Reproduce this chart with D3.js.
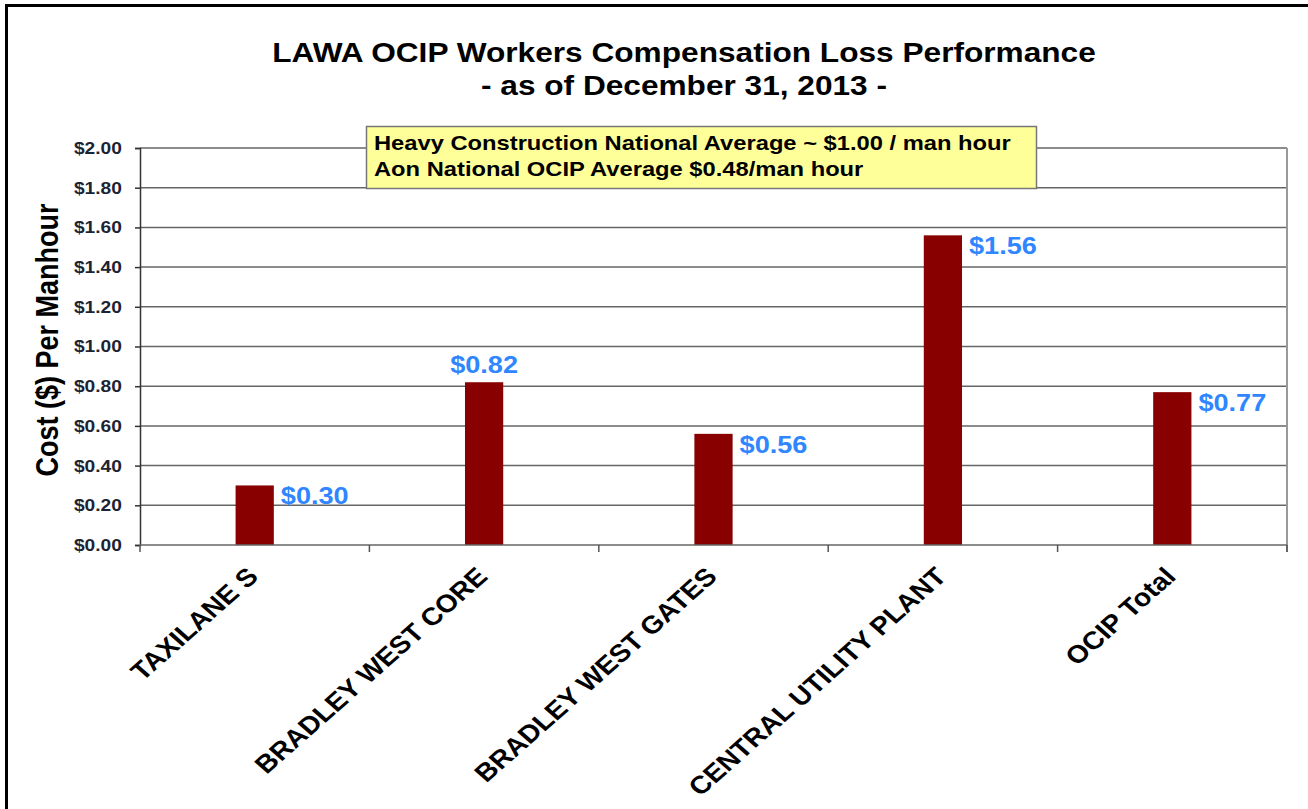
<!DOCTYPE html>
<html>
<head>
<meta charset="utf-8">
<script src="https://cdn.jsdelivr.net/npm/d3@7"></script>
<style>
  body { margin: 0; background: #fff; }
  svg { display: block; font-family: "Liberation Sans", Arial, sans-serif; }
</style>
</head>
<body>
<svg width="1308" height="809"></svg>
<script>
/* data */
var categories = ["TAXILANE S", "BRADLEY WEST CORE", "BRADLEY WEST GATES", "CENTRAL UTILITY PLANT", "OCIP Total"];
var costs = [0.30, 0.82, 0.56, 1.56, 0.77];
var yTicks = [0, 0.2, 0.4, 0.6, 0.8, 1.0, 1.2, 1.4, 1.6, 1.8, 2.0];
var titleLines = ["LAWA OCIP Workers Compensation Loss Performance", "- as of December 31, 2013 -"];
var noteLines = ["Heavy Construction National Average ~ $1.00 / man hour", "Aon National OCIP Average $0.48/man hour"];

/* plot area (note: "top" is taken by window.top, so use plotTop) */
var plotLeft = 140, plotRight = 1287, plotTop = 148, plotBottom = 545;
// the source picture is stretched sideways a bit, text included
var SX = 1.13;

var svg = d3.select("svg");

// outer frame (only left + top show in the picture)
svg.append("path")
  .attr("d", "M6.5,809 L6.5,5.5 L1308,5.5")
  .attr("fill", "none")
  .attr("stroke", "#000")
  .attr("stroke-width", 3);

var x = d3.scaleBand().domain(categories).range([plotLeft, plotRight]).padding(0);
var y = d3.scaleLinear().domain([0, 2]).range([plotBottom, plotTop]);

// gridlines
svg.append("g").selectAll("line")
  .data(yTicks.filter(function(d) { return d > 0; }))
  .join("line")
  .attr("x1", plotLeft).attr("x2", plotRight)
  .attr("y1", function(d) { return y(d); })
  .attr("y2", function(d) { return y(d); })
  .attr("stroke", "#666")
  .attr("stroke-width", 1.5);

// right edge of plot
svg.append("line")
  .attr("x1", plotRight).attr("x2", plotRight)
  .attr("y1", plotTop).attr("y2", plotBottom + 7)
  .attr("stroke", "#999").attr("stroke-width", 2);

// bars
var barW = x.bandwidth() / 6;
svg.append("g").selectAll("rect")
  .data(costs)
  .join("rect")
  .attr("x", function(d, i) { return x(categories[i]) + x.bandwidth() / 2 - barW / 2; })
  .attr("y", function(d) { return y(d); })
  .attr("width", barW)
  .attr("height", function(d) { return y(0) - y(d); })
  .attr("fill", "#880000");

// y axis
var yAxis = svg.append("g")
  .attr("transform", "translate(" + plotLeft + ",0)")
  .call(d3.axisLeft(y).tickValues(yTicks).tickSize(5).tickPadding(11)
    .tickFormat(function(d) { return "$" + d.toFixed(2); }));
yAxis.select(".domain").attr("stroke", "#333").attr("stroke-width", 1.5);
yAxis.selectAll(".tick line").attr("stroke", "#333").attr("stroke-width", 1.5);
yAxis.selectAll("text")
  .attr("transform", "scale(" + SX + ",1)")
  .attr("font-size", 17).attr("font-weight", "bold").attr("fill", "#1c2433");

// x axis (ticks at category boundaries)
var bounds = categories.map(function(c) { return x(c); }).concat([plotRight]);
svg.append("line")
  .attr("x1", plotLeft).attr("x2", plotRight)
  .attr("y1", plotBottom).attr("y2", plotBottom)
  .attr("stroke", "#666").attr("stroke-width", 1.5);
svg.append("g").selectAll("line")
  .data(bounds)
  .join("line")
  .attr("x1", function(d) { return d; }).attr("x2", function(d) { return d; })
  .attr("y1", plotBottom).attr("y2", plotBottom + 7)
  .attr("stroke", "#555").attr("stroke-width", 1.5);

// category labels, rotated
svg.append("g").selectAll("text")
  .data(categories)
  .join("text")
  .attr("transform", function(d) {
    return "translate(" + (x(d) + x.bandwidth() / 2 + 5) + "," + (plotBottom + 33) + ") scale(" + SX + ",1) rotate(-45)";
  })
  .attr("text-anchor", "end")
  .attr("font-size", 25)
  .attr("font-weight", "bold")
  .attr("fill", "#000")
  .text(function(d) { return d; });

// value labels; the second one sits above its bar, the rest at the right of the bar top
svg.append("g").selectAll("text")
  .data(costs)
  .join("text")
  .attr("transform", function(d, i) {
    var cx = x(categories[i]) + x.bandwidth() / 2;
    var tx = i === 1 ? cx : cx + barW / 2 + 7;
    var ty = i === 1 ? y(d) - 9 : y(d) + 19;
    return "translate(" + tx + "," + ty + ") scale(" + SX + ",1)";
  })
  .attr("text-anchor", function(d, i) { return i === 1 ? "middle" : "start"; })
  .attr("font-size", 24)
  .attr("font-weight", "bold")
  .attr("fill", "#2f86ff")
  .text(function(d) { return "$" + d.toFixed(2); });

// y axis title
svg.append("text")
  .attr("transform", "translate(58,340) scale(" + SX + ",1) rotate(-90)")
  .attr("text-anchor", "middle")
  .attr("font-size", 27)
  .attr("font-weight", "bold")
  .attr("fill", "#000")
  .text("Cost ($) Per Manhour");

// title
svg.append("g").selectAll("text")
  .data(titleLines)
  .join("text")
  .attr("transform", function(d, i) { return "translate(684," + (62 + i * 33) + ") scale(" + SX + ",1)"; })
  .attr("text-anchor", "middle")
  .attr("font-size", 28)
  .attr("font-weight", "bold")
  .attr("fill", "#000")
  .text(function(d) { return d; });

// yellow note box
svg.append("rect")
  .attr("x", 366.5).attr("y", 126.5)
  .attr("width", 670).attr("height", 62)
  .attr("fill", "#ffff99")
  .attr("stroke", "#777").attr("stroke-width", 1.5);
svg.append("g").selectAll("text")
  .data(noteLines)
  .join("text")
  .attr("transform", function(d, i) { return "translate(374," + (150 + i * 26) + ") scale(" + SX + ",1)"; })
  .attr("font-size", 21)
  .attr("font-weight", "bold")
  .attr("fill", "#000")
  .text(function(d) { return d; });
</script>
</body>
</html>
